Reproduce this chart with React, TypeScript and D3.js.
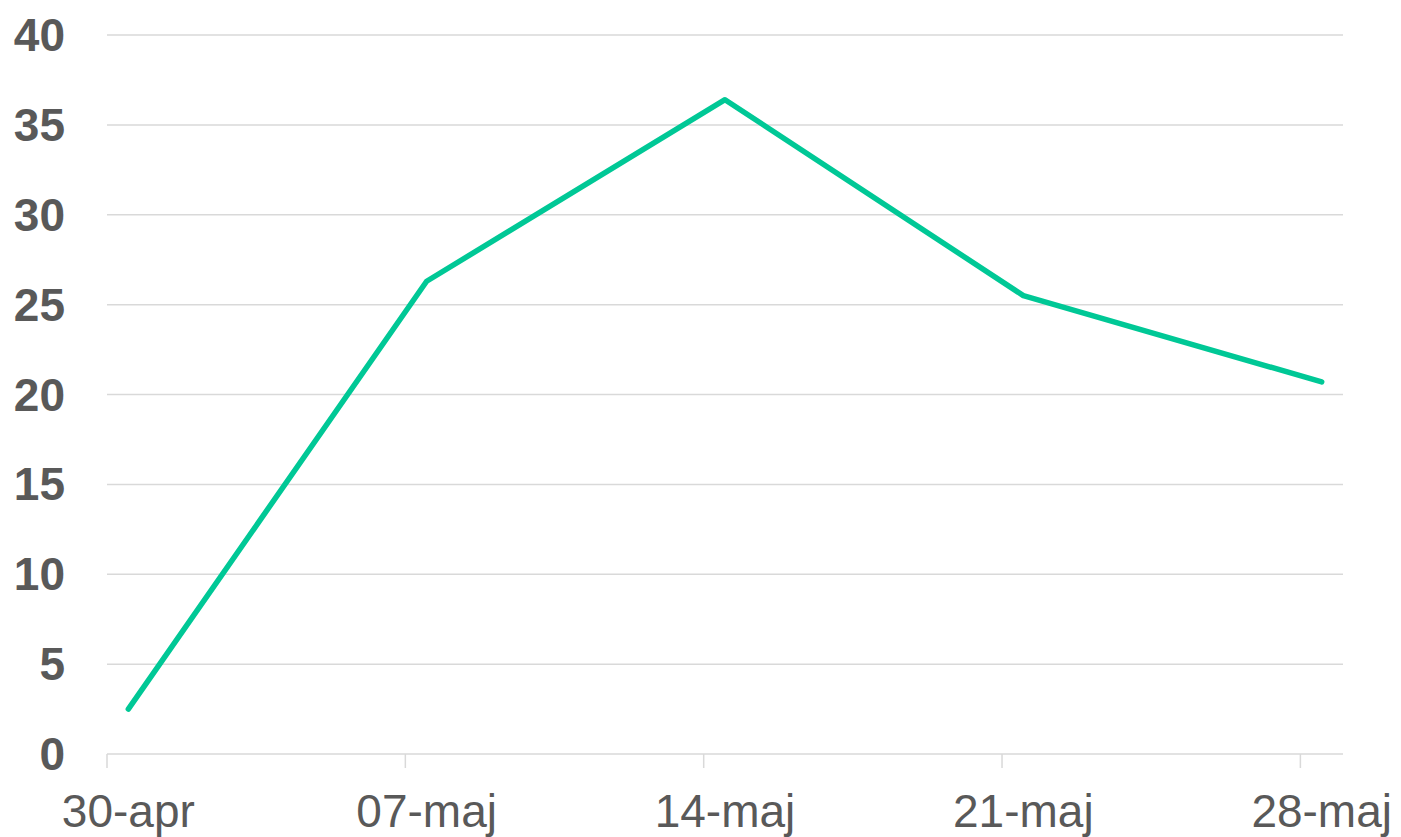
import React from "react";
import * as d3 from "d3";

const categories = ["2020-04-30", "2020-05-07", "2020-05-14", "2020-05-21", "2020-05-28"];
const tickLabels = ["30-apr", "07-maj", "14-maj", "21-maj", "28-maj"];
const values = [2.5, 26.3, 36.4, 25.5, 20.7];
const yTicks = [0, 5, 10, 15, 20, 25, 30, 35, 40];

const W = 1401;
const H = 837;
const left = 107;
const right = 1343;
const top = 35;
const bottom = 754;

export default function App() {
  const parse = d3.utcParse("%Y-%m-%d");
  const dates = categories.map((c) => parse(c) as Date);
  const start = dates[0];
  const end = d3.utcDay.offset(dates[dates.length - 1], 1);
  const x = d3.scaleUtc().domain([start, end]).range([left, right]);
  const y = d3.scaleLinear().domain([0, 40]).range([bottom, top]);
  const mid = (d: Date) => x(d3.utcHour.offset(d, 12));

  const line = d3
    .line<number>()
    .x((_, i) => mid(dates[i]))
    .y((v) => y(v));

  const font = "'Liberation Sans', Arial, sans-serif";

  return (
    <div style={{ position: "absolute", left: 0, top: 0 }}>
      <svg width={W} height={H} style={{ display: "block", background: "#fff" }}>
        {yTicks.map((t) => (
          <g key={t}>
            <line x1={left} x2={right} y1={y(t)} y2={y(t)} stroke="#d9d9d9" strokeWidth={1.5} />
            <text
              x={65}
              y={y(t)}
              textAnchor="end"
              dominantBaseline="central"
              fontFamily={font}
              fontWeight="bold"
              fontSize={46}
              fill="#595959"
            >
              {t}
            </text>
          </g>
        ))}
        {dates.map((d, i) => (
          <g key={i}>
            <line x1={x(d)} x2={x(d)} y1={bottom} y2={bottom + 14} stroke="#d9d9d9" strokeWidth={1.5} />
            <text
              x={mid(d)}
              y={827}
              textAnchor="middle"
              fontFamily={font}
              fontSize={46}
              fill="#595959"
            >
              {tickLabels[i]}
            </text>
          </g>
        ))}
        <path
          d={line(values) || ""}
          fill="none"
          stroke="#00c896"
          strokeWidth={5.5}
          strokeLinecap="round"
          strokeLinejoin="round"
        />
      </svg>
    </div>
  );
}
